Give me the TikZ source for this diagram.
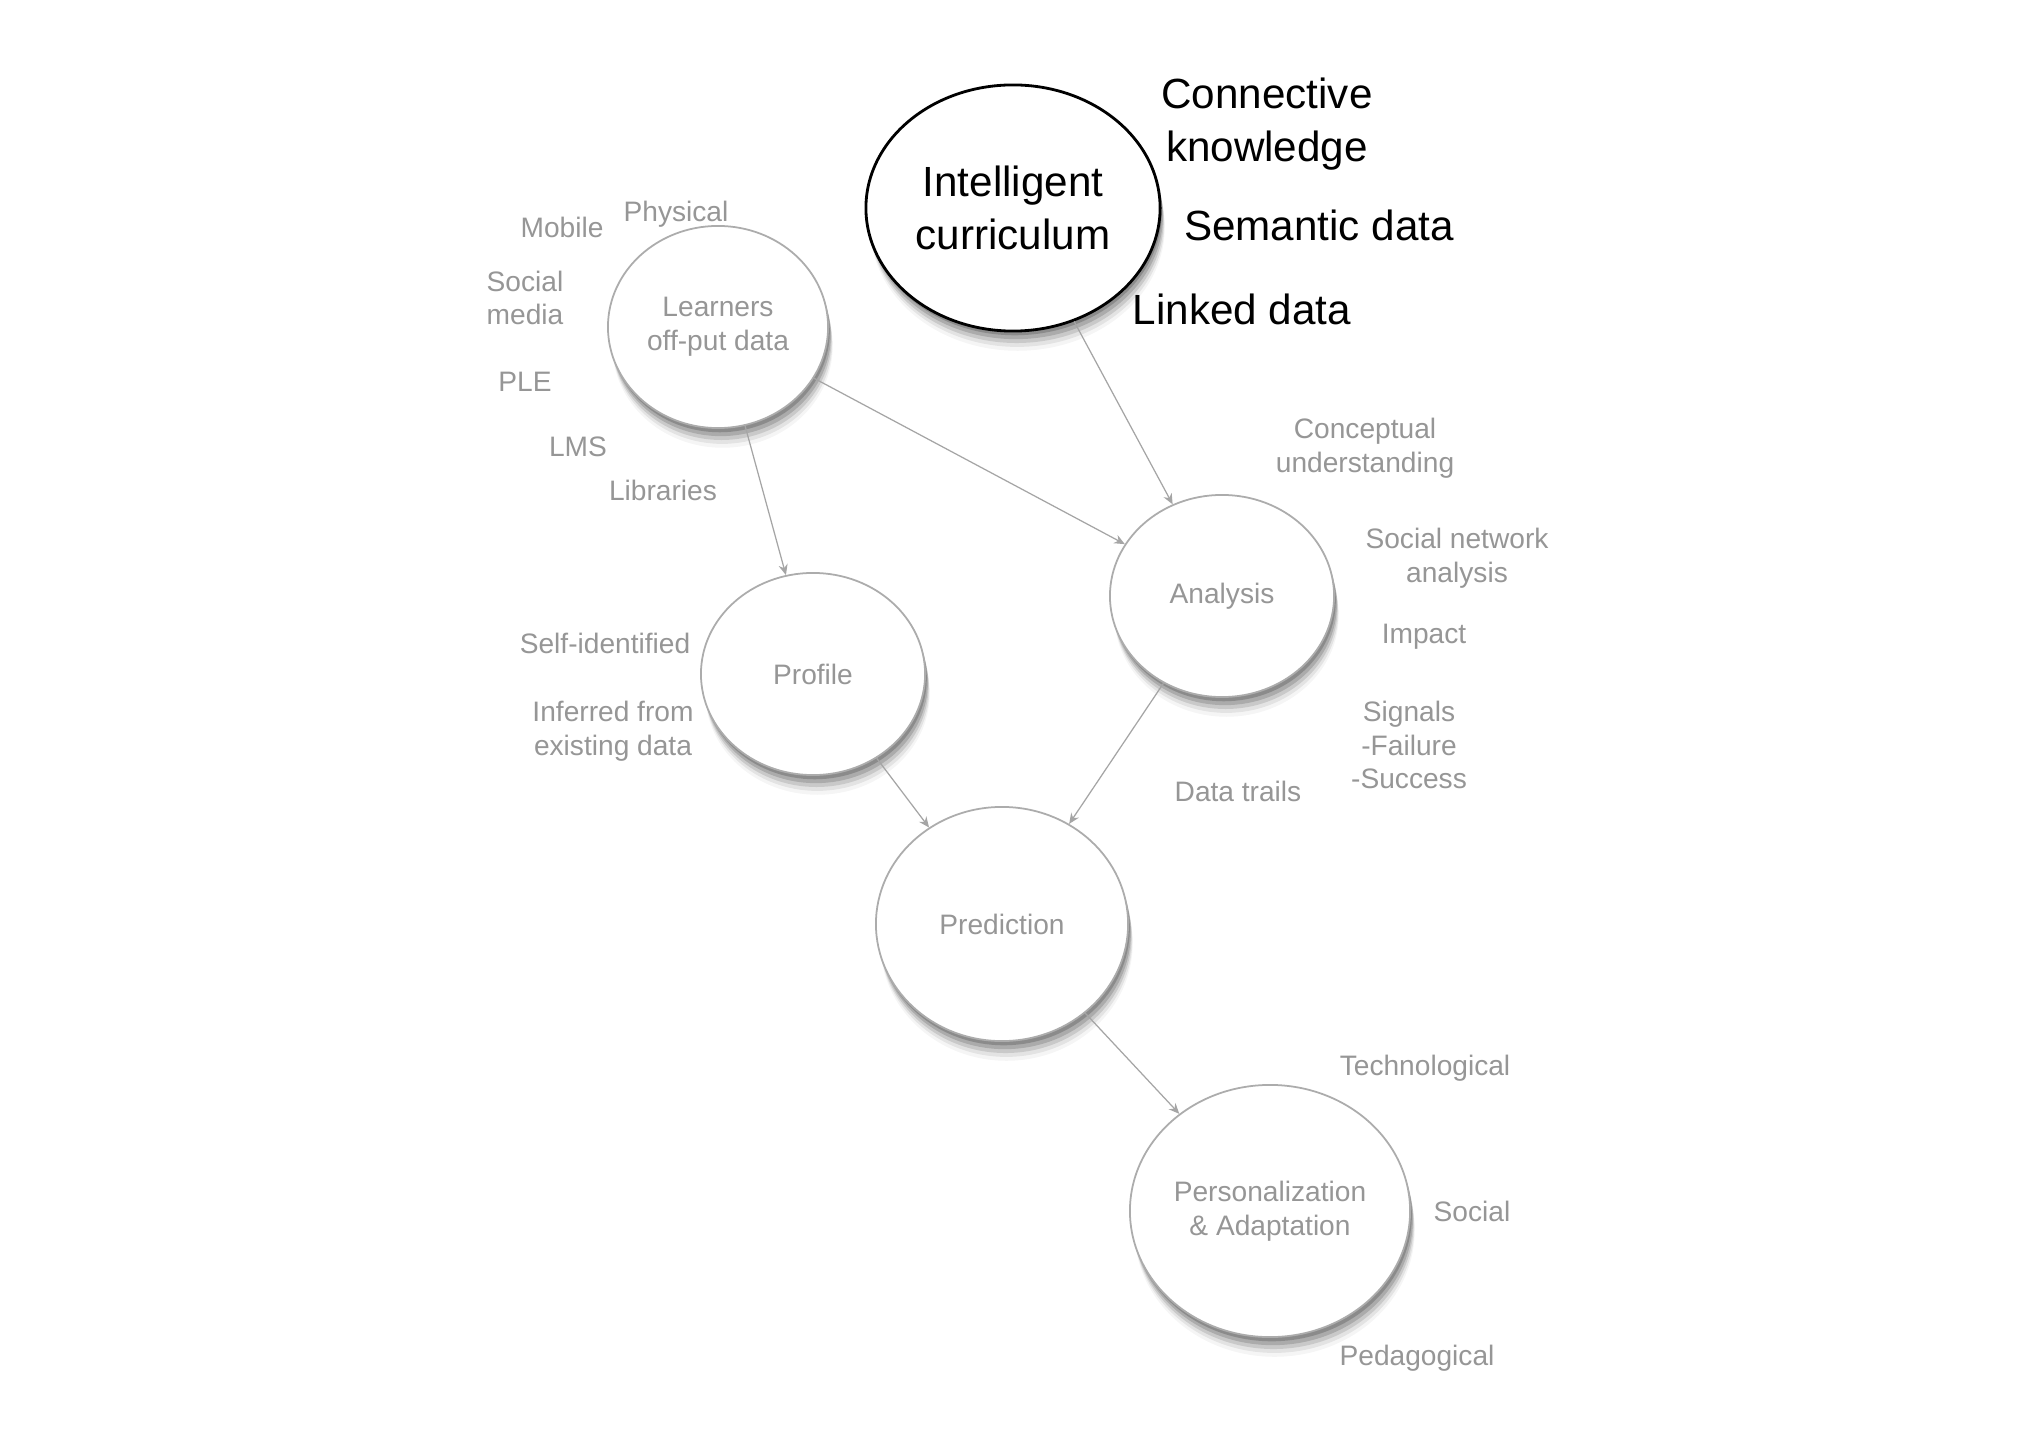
\documentclass[tikz,border=0pt]{standalone}
\usepackage{fontspec}
\setmainfont{Liberation Sans}
\usetikzlibrary{shapes.geometric,arrows.meta,shadows}
\definecolor{labelgray}{RGB}{150,150,150}
\definecolor{circgray}{RGB}{172,172,172}
\definecolor{linegray}{RGB}{165,165,165}
\begin{document}
\begin{tikzpicture}[x=0.01cm,y=-0.01cm,
  lbl/.style={text=labelgray, font=\fontsize{8}{9.6}\selectfont, align=center, inner sep=0},
  blbl/.style={text=black, font=\fontsize{12}{15}\selectfont, align=center, inner sep=0},
  softshadow/.style={
    general shadow={fill=black, opacity=0.18, shadow xshift=0.5pt, shadow yshift=-1.2pt},
    general shadow={fill=black, opacity=0.15, shadow xshift=0.8pt, shadow yshift=-2.3pt},
    general shadow={fill=black, opacity=0.11, shadow xshift=1.0pt, shadow yshift=-3.4pt},
    general shadow={fill=black, opacity=0.07, shadow xshift=1.2pt, shadow yshift=-4.5pt},
    general shadow={fill=black, opacity=0.04, shadow xshift=1.3pt, shadow yshift=-5.6pt}},
  bub/.style={ellipse, draw=circgray, line width=0.5pt, fill=white, inner sep=0,
    text=labelgray, font=\fontsize{8}{9.6}\selectfont, align=center, softshadow},
  bigbub/.style={ellipse, draw=black, line width=0.8pt, fill=white, inner sep=0,
    text=black, font=\fontsize{12}{15}\selectfont, align=center, softshadow},
  conn/.style={draw=linegray, line width=0.35pt, -{Stealth[length=3pt,width=2.6pt]}}
]
\fill[white] (0,0) rectangle (2037,1440);
\useasboundingbox (0,0) rectangle (2037,1440);

% bubbles
\node[bigbub, minimum width=2.94cm, minimum height=2.46cm] (ic) at (1013,208) {Intelligent\\curriculum};
\node[bub, minimum width=2.20cm, minimum height=2.02cm] (lo) at (718,327) {Learners\\off-put data};
\node[bub, minimum width=2.24cm, minimum height=2.02cm] (an) at (1222,596) {Analysis};
\node[bub, minimum width=2.24cm, minimum height=2.02cm] (pr) at (813,674) {Profile};
\node[bub, minimum width=2.52cm, minimum height=2.34cm] (pd) at (1002,924) {Prediction};
\node[bub, minimum width=2.80cm, minimum height=2.52cm] (pa) at (1270,1211) {Personalization\\\& Adaptation};

% connectors
\draw[conn] (ic) -- (an);
\draw[conn] (lo) -- (an);
\draw[conn] (lo) -- (pr);
\draw[conn] (pr) -- (pd);
\draw[conn] (an) -- (pd);
\draw[conn] (pd) -- (pa);

% black labels
\node[blbl] (ck) at (1267,124) {Connective\\knowledge};
\node[blbl] (sd) at (1319,225) {Semantic data};
\node[blbl] (ld) at (1242,309) {Linked data};

% gray labels
\node[lbl] (mob) at (562,227) {Mobile};
\node[lbl] (phy) at (676,214) {Physical};
\node[lbl] (sm) at (525,298) {Social\\media};
\node[lbl] (ple) at (525,382) {PLE};
\node[lbl] (lms) at (578,447) {LMS};
\node[lbl] (lib) at (663,490) {Libraries};
\node[lbl] (cu) at (1365,448) {Conceptual\\understanding};
\node[lbl] (sna) at (1457,558) {Social network\\analysis};
\node[lbl] (imp) at (1424,637) {Impact};
\node[lbl] (sig) at (1409,745) {Signals\\-Failure\\-Success};
\node[lbl] (dt) at (1238,791) {Data trails};
\node[lbl] (si) at (605,643) {Self-identified};
\node[lbl] (inf) at (613,731) {Inferred from\\existing data};
\node[lbl] (tec) at (1425,1068) {Technological};
\node[lbl] (soc) at (1472,1211) {Social};
\node[lbl] (ped) at (1417,1358) {Pedagogical};
\end{tikzpicture}
\end{document}
